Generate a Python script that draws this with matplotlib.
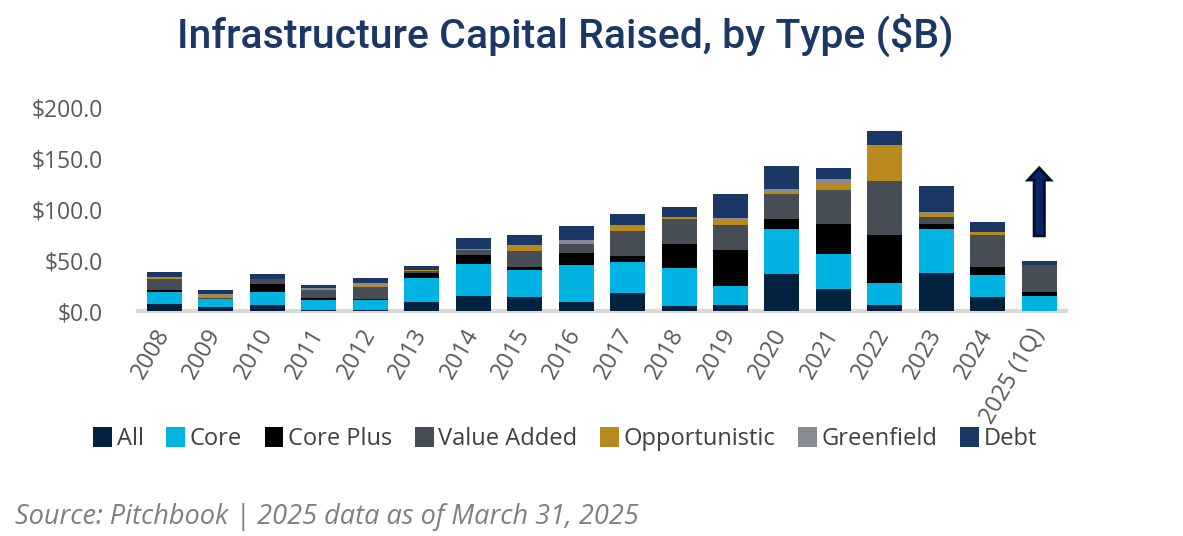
import matplotlib
matplotlib.use("Agg")
import matplotlib.pyplot as plt
from matplotlib.patches import FancyArrow
import numpy as np

years = ["2008", "2009", "2010", "2011", "2012", "2013", "2014", "2015", "2016",
         "2017", "2018", "2019", "2020", "2021", "2022", "2023", "2024", "2025 (1Q)"]

all_ = [7, 4, 6, 1, 0.5, 9, 15, 14, 9, 18, 5, 6, 36.5, 21.7, 6, 37.4, 14, 0]
core = [11.8, 8, 13, 10, 10.3, 23.6, 31.5, 26.6, 36.5, 30.5, 37.5, 18.7, 44.3, 34.5, 21.7, 43.4, 21, 15]
core_plus = [2, 0, 8, 2, 1, 5, 9, 3, 12, 6, 23.5, 35.5, 10, 29.5, 47.3, 5, 8.5, 4]
value_added = [10.8, 0.5, 5, 8, 12, 2, 5, 16, 9, 24.5, 24.5, 24.5, 24.6, 33.5, 53.2, 7, 31.5, 26.5]
opportunistic = [2, 3.5, 0, 0, 2, 1, 1, 5, 0, 5, 2, 5, 3, 6, 34.5, 3, 3, 0]
greenfield = [0, 0.5, 0, 2, 2, 0, 0, 0, 3, 1, 0, 2, 2, 5, 1, 2, 0, 0]
debt = [4.7, 4, 4, 3, 5, 4, 10, 10, 14, 11, 10, 23.7, 22.7, 11, 14, 25.6, 10, 4]

series = [
    ("All", all_, "#03223f"),
    ("Core", core, "#00b3e3"),
    ("Core Plus", core_plus, "#000000"),
    ("Value Added", value_added, "#464d54"),
    ("Opportunistic", opportunistic, "#b8891c"),
    ("Greenfield", greenfield, "#898b92"),
    ("Debt", debt, "#1b3766"),
]

yticks = [0, 50, 100, 150, 200]
ytick_labels = ["$0.0", "$50.0", "$100.0", "$150.0", "$200.0"]

title = "Infrastructure Capital Raised, by Type ($B)"
source = "Source: Pitchbook | 2025 data as of March 31, 2025"

plt.rcParams["font.family"] = ["Open Sans", "DejaVu Sans"]

fig = plt.figure(figsize=(11.83, 5.36), dpi=100)
ax = fig.add_axes([137.7 / 1183, (536 - 311) / 536, (1066 - 137.7) / 1183, 203 / 536])

x = np.arange(len(years))
bottom = np.zeros(len(years))
handles = []
for name, vals, color in series:
    v = np.array(vals, dtype=float)
    b = ax.bar(x, v, bottom=bottom, width=0.68, color=color, label=name, zorder=3, linewidth=0)
    handles.append(b)
    bottom += v

ax.set_xlim(-0.52, len(years) - 0.48)
ax.set_ylim(0, 200)
ax.set_yticks(yticks)
ax.set_yticklabels(ytick_labels)
ax.set_xticks(x)
ax.set_xticklabels(years, rotation=60, ha="right", va="center", rotation_mode="anchor")
ax.tick_params(axis="y", length=0, pad=25, labelsize=16.5, labelcolor="#595959")
ax.tick_params(axis="x", length=0, pad=14, labelsize=17, labelcolor="#595959")

for s in ["top", "right", "left"]:
    ax.spines[s].set_visible(False)
ax.spines["bottom"].set_color("#d9d9d9")
ax.spines["bottom"].set_linewidth(3)
ax.spines["bottom"].set_zorder(2)

# arrow above the 2025 bar
last = len(years) - 1
arr = FancyArrow(last, 74, 0, 55, width=0.2, head_width=0.44, head_length=12,
                 length_includes_head=False, facecolor="#0b2466", edgecolor="#020f26",
                 linewidth=2, zorder=4)
ax.add_patch(arr)

fig.text(565 / 1183, 1 - 35 / 536, title, ha="center", va="center", fontsize=29.5,
         color="#1b3766", family=["Roboto", "DejaVu Sans"], fontweight="medium")

fig.legend(handles=handles, labels=[s[0] for s in series], loc="center",
           bbox_to_anchor=(565 / 1183, 1 - 439 / 536), ncol=7, frameon=False,
           fontsize=17, handlelength=0.8, handleheight=0.95, handletextpad=0.2,
           columnspacing=0.95, labelcolor="#404040")

fig.text(15 / 1183, 1 - 517 / 536, source, ha="left", va="center", fontsize=19.5,
         style="italic", color="#7f7f7f")

fig.savefig("out.png", dpi=100)
